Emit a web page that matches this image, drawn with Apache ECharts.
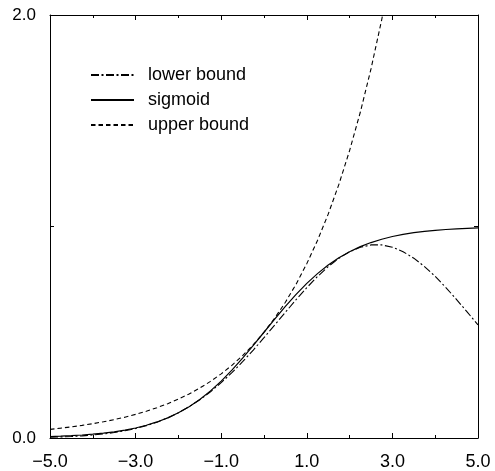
<!DOCTYPE html>
<html>
<head>
<meta charset="utf-8">
<script src="https://cdn.jsdelivr.net/npm/echarts@6/dist/echarts.min.js"></script>
<style>
html,body{margin:0;padding:0;background:#fff;}
#chart{width:495px;height:471px;}
</style>
</head>
<body>
<div id="chart"></div>
<script>
// x positions (step 0.25)
const xValues = [-5,-4.75,-4.5,-4.25,-4,-3.75,-3.5,-3.25,-3,-2.75,-2.5,-2.25,-2,-1.75,-1.5,-1.25,-1,-0.75,-0.5,-0.25,0,
  0.25,0.5,0.75,1,1.25,1.5,1.75,2,2.25,2.5,2.75,3,3.25,3.5,3.75,4,4.25,4.5,4.75,5];
const sigmoidValues = [0.0067,0.0086,0.0110,0.0141,0.0180,0.0230,0.0293,0.0373,0.0474,0.0601,0.0759,0.0953,0.1192,0.1480,0.1824,0.2227,0.2689,0.3208,0.3775,0.4378,0.5,
  0.5622,0.6225,0.6792,0.7311,0.7773,0.8176,0.8520,0.8808,0.9047,0.9241,0.9399,0.9526,0.9627,0.9707,0.9770,0.9820,0.9859,0.9890,0.9914,0.9933];
const lowerBoundValues = [0.0036,0.0051,0.0073,0.0101,0.0140,0.0191,0.0257,0.0342,0.0449,0.0584,0.0749,0.0951,0.1192,0.1477,0.1808,0.2187,0.2615,0.3089,0.3606,0.4160,0.4742,
  0.5341,0.5946,0.6540,0.7108,0.7634,0.8103,0.8498,0.8808,0.9020,0.9129,0.9129,0.9022,0.8810,0.8502,0.8106,0.7639,0.7113,0.6544,0.5950,0.5347];
// upper bound leaves the plot above y = 2 shortly after x = 2.75
const upperBoundValues = [0.0410,0.0465,0.0527,0.0597,0.0677,0.0767,0.0869,0.0985,0.1116,0.1264,0.1433,0.1623,0.1839,0.2084,0.2362,0.2676,0.3033,0.3436,0.3894,0.4412,0.5,
  0.5666,0.6420,0.7275,0.8244,0.9341,1.0585,1.1994,1.3591,1.5401,1.7452,1.9775,2.2408];
const seriesNames = ['lower bound','sigmoid','upper bound'];
const xTickLabels = ['\u22125.0','\u22123.0','\u22121.0','1.0','3.0','5.0'];
const yTickLabels = {0:'0.0', 2:'2.0'};

const toPairs = arr => arr.map((y,i)=>[xValues[i], y]);
const FONT = "'Liberation Sans', Arial, Helvetica, sans-serif";
const axisLine = {show:true, onZero:false, lineStyle:{color:'#000', width:1}};
const clear = 'rgba(0,0,0,0)';

const chart = echarts.init(document.getElementById('chart'));
chart.setOption({
  animation:false,
  backgroundColor:'#fff',
  grid:{left:50, right:17, top:15, bottom:29, containLabel:false},
  legend:{
    data:seriesNames,
    orient:'vertical',
    left:90, top:66, padding:0,
    itemWidth:43, itemHeight:18, itemGap:7,
    itemStyle:{color:clear, borderColor:clear, borderWidth:0, opacity:0},
    textStyle:{fontFamily:FONT, fontSize:18, lineHeight:18, color:'#000', padding:[0,0,0,9]}
  },
  xAxis:[{
    type:'value', min:-5, max:5, interval:2, position:'bottom',
    axisLine:axisLine,
    axisTick:{show:true, inside:true, length:5, lineStyle:{color:'#000'}},
    minorTick:{show:true, splitNumber:2, length:3, lineStyle:{color:'#000'}},
    splitLine:{show:false},
    axisLabel:{margin:15, fontFamily:FONT, fontSize:18, color:'#000',
      formatter:v=>{const i=Math.round((v+5)/2); return xTickLabels[i]||'';}}
  },{
    type:'value', min:-5, max:5, interval:2, position:'top',
    axisLine:axisLine,
    axisTick:{show:true, inside:true, length:5, lineStyle:{color:'#000'}},
    minorTick:{show:true, splitNumber:2, length:3, lineStyle:{color:'#000'}},
    splitLine:{show:false},
    axisLabel:{show:false}
  }],
  yAxis:[{
    type:'value', min:0, max:2, interval:1, position:'left',
    axisLine:axisLine,
    axisTick:{show:true, inside:true, length:4, lineStyle:{color:'#000'}},
    splitLine:{show:false},
    axisLabel:{margin:14, fontFamily:FONT, fontSize:17, color:'#000',
      formatter:v=>yTickLabels[v]||''}
  },{
    type:'value', min:0, max:2, interval:1, position:'right',
    axisLine:axisLine,
    axisTick:{show:true, inside:true, length:4, lineStyle:{color:'#000'}},
    splitLine:{show:false},
    axisLabel:{show:false}
  }],
  series:[{
    name:seriesNames[0], type:'line', data:toPairs(lowerBoundValues),
    symbol:'none', smooth:false, clip:true,
    lineStyle:{color:'#000', width:1.1, type:[8,2.5,2,2.5]}, itemStyle:{color:'#000'}
  },{
    name:seriesNames[1], type:'line', data:toPairs(sigmoidValues),
    symbol:'none', smooth:false, clip:true,
    lineStyle:{color:'#000', width:1.2, type:'solid'}, itemStyle:{color:'#000'}
  },{
    name:seriesNames[2], type:'line', data:toPairs(upperBoundValues),
    symbol:'none', smooth:false, clip:true,
    lineStyle:{color:'#000', width:1.1, type:[4.5,3]}, itemStyle:{color:'#000'}
  }]
});
</script>
</body>
</html>
